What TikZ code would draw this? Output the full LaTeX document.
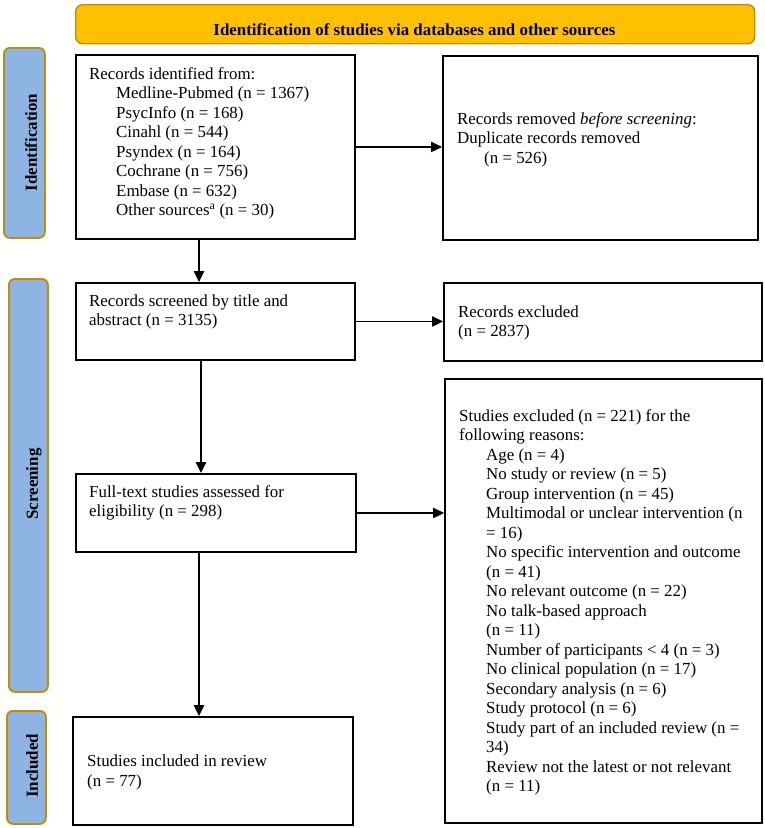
\documentclass[tikz,border=0pt]{standalone}
\usepackage{fontspec}
\setmainfont{Liberation Serif}
\usetikzlibrary{arrows.meta}
\definecolor{hdrfill}{HTML}{FFC000}
\definecolor{goldline}{HTML}{BF8F00}
\definecolor{barfill}{HTML}{8EB4E3}
\newcommand{\myfs}{\fontsize{16.9}{19.5}\selectfont}
\newcommand{\ind}{\hspace*{27pt}}
\newcommand{\lines}[1]{\parbox[t]{330pt}{\myfs #1}}
\begin{document}
\begin{tikzpicture}[x=1pt,y=-1pt,
  box/.style={draw=black, line width=1.9pt, rectangle, inner sep=0pt, anchor=north west},
  bar/.style={draw=goldline, fill=barfill, line width=1.8pt, rounded corners=6pt, inner sep=0pt, anchor=north west},
  hdr/.style={draw=goldline, fill=hdrfill, line width=1.4pt, rounded corners=7pt, inner sep=0pt, anchor=north west},
  arr/.style={line width=1.1pt, -{Triangle[length=11pt,width=10.5pt]}},
  txt/.style={inner sep=0pt, anchor=base west},
  lbl/.style={inner sep=0pt, font=\myfs\bfseries, rotate=90}
]
\useasboundingbox (0,0) rectangle (765,828);

% header
\node[hdr, minimum width=679pt, minimum height=39pt] (hdr) at (75,4) {};
\node[inner sep=0pt, anchor=base, font=\myfs\bfseries] (hdrtxt) at (414.5,35) {Identification of studies via databases and other sources};

% side bars
\node[bar, minimum width=41pt, minimum height=190pt] (barId) at (3,47) {};
\node[bar, minimum width=39pt, minimum height=413pt] (barScr) at (8,278) {};
\node[bar, minimum width=39pt, minimum height=113pt] (barInc) at (6,710) {};
\node[lbl] (lblId) at (31,142.5) {Identification};
\node[lbl] (lblScr) at (34,484) {Screening};
\node[lbl] (lblInc) at (32,766) {Included};

% boxes
\node[box, minimum width=279pt, minimum height=184pt] (ident) at (75,54) {};
\node[box, minimum width=315pt, minimum height=184pt] (removed) at (442,55) {};
\node[box, minimum width=279pt, minimum height=77pt] (screened) at (75,282) {};
\node[box, minimum width=318pt, minimum height=78pt] (excl1) at (443,282) {};
\node[box, minimum width=280pt, minimum height=78pt] (full) at (75,473) {};
\node[box, minimum width=317pt, minimum height=444pt] (excl2) at (444,378) {};
\node[box, minimum width=280pt, minimum height=108pt] (incl) at (72,716) {};

% texts
\node[txt] (identtxt) at (89,79) {\lines{Records identified from:\\
\ind Medline-Pubmed (n = 1367)\\
\ind PsycInfo (n = 168)\\
\ind Cinahl (n = 544)\\
\ind Psyndex (n = 164)\\
\ind Cochrane (n = 756)\\
\ind Embase (n = 632)\\
\ind Other sources\textsuperscript{a} (n = 30)}};

\node[txt] (removedtxt) at (457,124) {\lines{Records removed \textit{before screening}:\\
Duplicate records removed\\
\ind (n = 526)}};

\node[txt] (screenedtxt) at (89,306) {\lines{Records screened by title and\\
abstract (n = 3135)}};

\node[txt] (excl1txt) at (458,317) {\lines{Records excluded\\
(n = 2837)}};

\node[txt] (fulltxt) at (89,497) {\lines{Full-text studies assessed for\\
eligibility (n = 298)}};

\node[txt] (excl2txt) at (459,421) {\lines{Studies excluded (n = 221) for the\\
following reasons:\\
\ind Age (n = 4)\\
\ind No study or review (n = 5)\\
\ind Group intervention (n = 45)\\
\ind Multimodal or unclear intervention (n\\
\ind = 16)\\
\ind No specific intervention and outcome\\
\ind (n = 41)\\
\ind No relevant outcome (n = 22)\\
\ind No talk-based approach\\
\ind (n = 11)\\
\ind Number of participants < 4 (n = 3)\\
\ind No clinical population (n = 17)\\
\ind Secondary analysis (n = 6)\\
\ind Study protocol (n = 6)\\
\ind Study part of an included review (n =\\
\ind 34)\\
\ind Review not the latest or not relevant\\
\ind (n = 11)}};

\node[txt] (incltxt) at (87,766.5) {\lines{Studies included in review\\
(n = 77)}};

% connectors
\coordinate (xa) at (199,0);
\coordinate (xb) at (201,0);
\coordinate (xc) at (199,0);
\draw[arr] (ident.east) -- (ident.east -| removed.west);
\draw[arr] (ident.south -| xa) -- (screened.north -| xa);
\draw[arr] (screened.east) -- (screened.east -| excl1.west);
\draw[arr] (screened.south -| xb) -- (full.north -| xb);
\draw[arr] (full.east) -- (full.east -| excl2.west);
\draw[arr] (full.south -| xc) -- (incl.north -| xc);
\end{tikzpicture}
\end{document}
